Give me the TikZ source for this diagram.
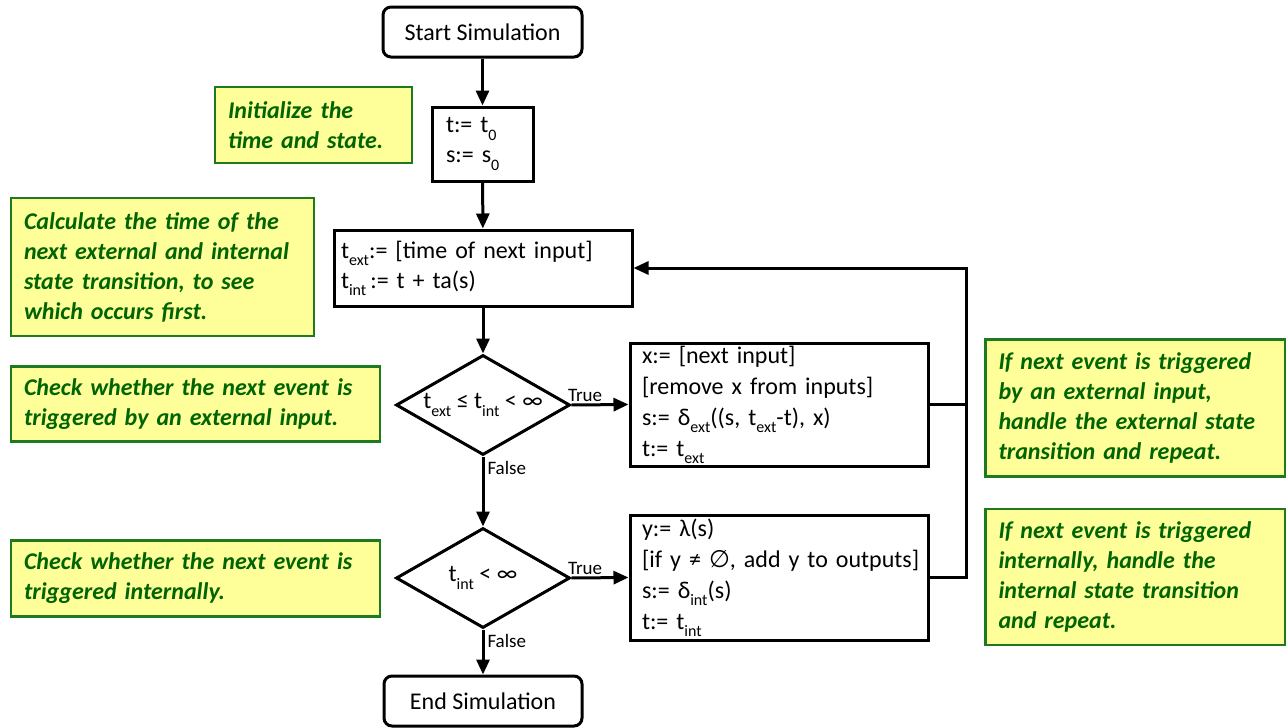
\documentclass[tikz,border=0pt]{standalone}
\usepackage{fontspec}
\setmainfont{Carlito}
\newfontfamily\dejavu{DejaVu Sans}
\usetikzlibrary{shapes.geometric,arrows.meta}
\definecolor{noteY}{HTML}{FFFF99}
\definecolor{noteB}{HTML}{1E7A1E}
\definecolor{noteT}{HTML}{006400}
\newcommand\sbs[1]{\raisebox{-0.3em}{\fontsize{16}{16}\selectfont #1}}
\begin{document}
\begin{tikzpicture}[x=1pt,y=-1pt,
  base/.style={draw=black,line width=3pt,font=\fontsize{24}{30}\selectfont},
  term/.style={base,rounded corners=8pt,minimum width=199pt,minimum height=50pt,inner sep=0pt},
  proc/.style={base,minimum width=#1,inner xsep=12pt,text width=#1-24pt,align=left,inner ysep=0pt},
  dia/.style={draw=black,line width=3pt,diamond,minimum width=174pt,minimum height=100pt,inner sep=0pt},
  note/.style={draw=noteB,fill=noteY,line width=2.6pt,text=noteT,
     font=\fontsize{24}{30}\selectfont\bfseries\itshape,
     minimum width=#1,inner xsep=13pt,text width=#1-26pt,align=left,inner ysep=0pt},
  arr/.style={line width=3pt,-{Triangle[length=15pt,width=13pt]}},
  ln/.style={line width=3pt},
  lab/.style={font=\fontsize{19}{19}\selectfont,inner sep=1pt}
]
\useasboundingbox (0,0) rectangle (1286,728);

% flowchart nodes
\node[term] (start) at (482.5,32) {Start Simulation};
\node[proc=101pt,minimum height=74pt,inner xsep=14pt,text width=73pt] (init) at (482.5,144) {t:= t\sbs{0}\\ s:= s\sbs{0}};
\node[proc=298pt,minimum height=76pt,inner xsep=7pt,text width=284pt] (calc) at (483,268)
  {t\sbs{ext}:= [time of next input]\\ t\sbs{int}\,:= t + ta(s)};
\node[dia,label={[font=\fontsize{24}{30}\selectfont]center:{t\sbs{ext} ≤ t\sbs{int} < ∞}}] (d1) at (483,405) {};
\node[proc=298pt,minimum height=123pt,font=\fontsize{24}{31}\selectfont] (ext) at (779,404.5)
  {\mbox{x:= [next input]}\\\mbox{[remove x from inputs]}\\\mbox{s:= δ\sbs{ext}((s, t\sbs{ext}-t), x)}\\\mbox{t:= t\sbs{ext}}};
\node[dia,label={[font=\fontsize{24}{30}\selectfont]center:{t\sbs{int} < ∞}}] (d2) at (483,578) {};
\node[proc=298pt,minimum height=125pt,font=\fontsize{24}{31}\selectfont] (int) at (779,577.5)
  {\mbox{y:= λ(s)}\\\mbox{[if y ≠ {\dejavu ∅}, add y to outputs]}\\\mbox{s:= δ\sbs{int}(s)}\\\mbox{t:= t\sbs{int}}};
\node[term,minimum width=198pt] (end) at (483,701) {End Simulation};

% notes
\node[note=197pt,minimum height=76pt] (n1) at (313.5,125) {Initialize the\\ time and state.};
\node[note=303pt,minimum height=138pt] (n2) at (162.5,267) {Calculate the time of the\\ next external and internal\\ state transition, to see\\ which occurs first.};
\node[note=369pt,minimum height=75pt] (n3) at (195.5,404) {Check whether the next event is\\ triggered by an external input.};
\node[note=369pt,minimum height=76pt] (n4) at (195.5,578.5) {Check whether the next event is\\ triggered internally.};
\node[note=300pt,minimum height=137pt] (n5) at (1135.5,408) {If next event is triggered\\ by an external input,\\ handle the external state\\ transition and repeat.};
\node[note=300pt,minimum height=136pt] (n6) at (1135.5,577) {If next event is triggered\\ internally, handle the\\ internal state transition\\ and repeat.};

% connectors
\coordinate (c1) at (966,404.5);
\coordinate (c2) at (966,268);
\draw[arr] (start) -- (init);
\draw[arr] (init) -- (calc);
\draw[arr] (calc) -- (d1);
\draw[arr] (d1.east) -- node[lab,pos=0,anchor=south west,xshift=-6pt,yshift=1pt]{True} (ext.west);
\draw[arr] (d1.south) -- node[lab,pos=0,anchor=north west,xshift=2pt,yshift=-2pt]{False} (d2.north);
\draw[arr] (d2.east) -- node[lab,pos=0,anchor=south west,xshift=-6pt,yshift=1pt]{True} (int.west);
\draw[arr] (d2.south) -- node[lab,pos=0,anchor=north west,xshift=2pt,yshift=-2pt]{False} (end.north);
\draw[ln] (ext.east) -- (c1);
\draw[arr] (int.east) -| (c2) -- (calc.east);
\end{tikzpicture}
\end{document}
